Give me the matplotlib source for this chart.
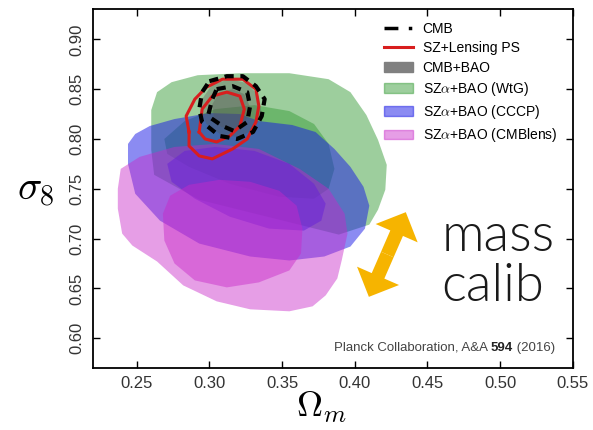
import matplotlib
matplotlib.use("Agg")
import matplotlib.pyplot as plt
from matplotlib.patches import Patch, FancyArrowPatch
from matplotlib.lines import Line2D

plt.rcParams['font.family'] = ['Liberation Sans', 'DejaVu Sans']
plt.rcParams['mathtext.fontset'] = 'cm'

# contour outlines (Omega_m, sigma_8)
wtg95_om = [0.260, 0.260, 0.264, 0.274, 0.292, 0.321, 0.355, 0.382, 0.397, 0.408,
            0.416, 0.422, 0.421, 0.416, 0.410, 0.389, 0.348, 0.293, 0.262]
wtg95_s8 = [0.789, 0.829, 0.847, 0.857, 0.864, 0.866, 0.866, 0.860, 0.847, 0.824,
            0.799, 0.774, 0.749, 0.729, 0.714, 0.704, 0.719, 0.739, 0.764]
wtg68_om = [0.269, 0.283, 0.304, 0.331, 0.355, 0.372, 0.382, 0.386, 0.382, 0.372,
            0.348, 0.314, 0.286, 0.271]
wtg68_s8 = [0.800, 0.818, 0.830, 0.834, 0.828, 0.815, 0.795, 0.770, 0.750, 0.740,
            0.742, 0.755, 0.772, 0.785]

cccp95_om = [0.244, 0.249, 0.259, 0.276, 0.300, 0.321, 0.334, 0.357, 0.373, 0.386,
             0.397, 0.406, 0.410, 0.407, 0.397, 0.379, 0.355, 0.328, 0.293, 0.266,
             0.249, 0.244]
cccp95_s8 = [0.795, 0.805, 0.813, 0.820, 0.826, 0.825, 0.818, 0.814, 0.807, 0.790,
             0.772, 0.752, 0.733, 0.710, 0.692, 0.682, 0.678, 0.682, 0.695, 0.718,
             0.745, 0.775]
cccp68_om = [0.271, 0.283, 0.304, 0.331, 0.355, 0.372, 0.380, 0.377, 0.365, 0.341,
             0.314, 0.290, 0.274]
cccp68_s8 = [0.775, 0.788, 0.792, 0.788, 0.775, 0.755, 0.735, 0.718, 0.708, 0.710,
             0.722, 0.740, 0.757]

lens95_om = [0.239, 0.252, 0.276, 0.304, 0.334, 0.362, 0.382, 0.393, 0.395, 0.391,
             0.388, 0.380, 0.371, 0.355, 0.328, 0.305, 0.282, 0.264, 0.247, 0.240,
             0.237, 0.237]
lens95_s8 = [0.770, 0.782, 0.792, 0.795, 0.790, 0.770, 0.750, 0.725, 0.705, 0.678,
             0.660, 0.643, 0.632, 0.627, 0.629, 0.637, 0.653, 0.677, 0.693, 0.705,
             0.730, 0.750]
lens68_om = [0.268, 0.273, 0.286, 0.307, 0.328, 0.348, 0.360, 0.364, 0.363, 0.355,
             0.334, 0.312, 0.290, 0.276, 0.269]
lens68_s8 = [0.725, 0.743, 0.754, 0.759, 0.757, 0.748, 0.733, 0.710, 0.685, 0.668,
             0.656, 0.651, 0.658, 0.675, 0.698]

cmbbao95_om = [0.295, 0.302, 0.314, 0.326, 0.334, 0.336, 0.331, 0.321, 0.308, 0.298, 0.294]
cmbbao95_s8 = [0.840, 0.855, 0.860, 0.856, 0.843, 0.825, 0.810, 0.802, 0.804, 0.815, 0.828]
cmbbao68_om = [0.302, 0.307, 0.316, 0.324, 0.328, 0.325, 0.317, 0.308, 0.303]
cmbbao68_s8 = [0.835, 0.847, 0.850, 0.845, 0.832, 0.818, 0.810, 0.812, 0.822]

cmb95_om = [0.300, 0.312, 0.323, 0.332, 0.338, 0.336, 0.330, 0.319, 0.307, 0.295, 0.293, 0.295]
cmb95_s8 = [0.858, 0.863, 0.863, 0.853, 0.840, 0.823, 0.807, 0.800, 0.803, 0.817, 0.830, 0.847]
cmb68_om = [0.305, 0.316, 0.326, 0.328, 0.326, 0.317, 0.309, 0.299, 0.302]
cmb68_s8 = [0.850, 0.853, 0.847, 0.833, 0.817, 0.808, 0.813, 0.823, 0.840]

szps95_om = [0.286, 0.284, 0.290, 0.298, 0.309, 0.323, 0.332, 0.334, 0.332, 0.326,
             0.316, 0.302, 0.293, 0.286]
szps95_s8 = [0.807, 0.823, 0.840, 0.852, 0.860, 0.860, 0.850, 0.833, 0.817, 0.800,
             0.790, 0.780, 0.783, 0.793]
szps68_om = [0.293, 0.295, 0.302, 0.312, 0.321, 0.324, 0.321, 0.314, 0.305, 0.297]
szps68_s8 = [0.807, 0.830, 0.843, 0.847, 0.843, 0.830, 0.813, 0.803, 0.797, 0.800]

# arrow ends (Omega_m, sigma_8)
arrow_lo = (0.4097, 0.6415)
arrow_hi = (0.4351, 0.7265)

xticks = [0.25, 0.30, 0.35, 0.40, 0.45, 0.50, 0.55]
yticks = [0.60, 0.65, 0.70, 0.75, 0.80, 0.85, 0.90]

green = '#3c9f3c'
blue = '#1818e6'
magenta = '#c828c8'

fig = plt.figure(figsize=(5.93, 4.30), dpi=100)
ax = fig.add_axes([0.157, 0.144, 0.809, 0.834])

ax.fill(wtg95_om, wtg95_s8, color=green, alpha=0.5, lw=0)
ax.fill(wtg68_om, wtg68_s8, color=green, alpha=0.5, lw=0)
ax.fill(cccp95_om, cccp95_s8, color=blue, alpha=0.5, lw=0)
ax.fill(cccp68_om, cccp68_s8, color=blue, alpha=0.5, lw=0)
ax.fill(lens95_om, lens95_s8, color=magenta, alpha=0.45, lw=0)
ax.fill(lens68_om, lens68_s8, color=magenta, alpha=0.45, lw=0)
ax.fill(cmbbao95_om, cmbbao95_s8, color='#555555', alpha=0.35, lw=0)
ax.fill(cmbbao68_om, cmbbao68_s8, color='#555555', alpha=0.35, lw=0)

for om, s8 in [(szps95_om, szps95_s8), (szps68_om, szps68_s8)]:
    ax.plot(om + om[:1], s8 + s8[:1], color='#d81e1e', lw=2.2)
for om, s8 in [(cmb95_om, cmb95_s8), (cmb68_om, cmb68_s8)]:
    ax.plot(om + om[:1], s8 + s8[:1], color='black', lw=3, ls=(0, (2.2, 1.6)))

# double arrow: two halves from the middle
mid = ((arrow_lo[0] + arrow_hi[0]) / 2, (arrow_lo[1] + arrow_hi[1]) / 2)
for tip in (arrow_lo, arrow_hi):
    ax.add_patch(FancyArrowPatch(mid, tip, arrowstyle='simple,head_length=0.55,head_width=1.1,tail_width=0.33',
                                 mutation_scale=30, shrinkA=0, shrinkB=0,
                                 facecolor='#f6b400', edgecolor='none', zorder=5))

ax.text(0.4597, 0.6875, 'mass', fontsize=38, family='Lato', fontweight=300, color='#1a1a1a')
ax.text(0.4597, 0.6375, 'calib', fontsize=38, family='Lato', fontweight=300, color='#1a1a1a')

t1 = ax.text(0.3858, 0.5905, 'Planck Collaboration, A&A ', fontsize=9.5, color='#444444', va='center')
t2 = ax.annotate('594', xy=(1, 0), xycoords=t1, va='bottom', fontsize=9.5, fontweight='bold', color='#222222')
ax.annotate(' (2016)', xy=(1, 0), xycoords=t2, va='bottom', fontsize=9.5, color='#444444')

ax.set_xlim(0.22, 0.55)
ax.set_ylim(0.57, 0.93)
ax.set_xticks(xticks)
ax.set_yticks(yticks)
ax.set_xticklabels(['%.2f' % v for v in xticks])
ax.set_yticklabels(['%.2f' % v for v in yticks], rotation=90, va='center')
ax.tick_params(direction='in', top=True, right=True, length=5, width=1,
               labelsize=12, labelcolor='#333333', pad=6)
for s in ax.spines.values():
    s.set_linewidth(1.3)

ax.set_xlabel(r'$\Omega_m$', fontsize=26, va='center')
ax.xaxis.set_label_coords(0.477, -0.11)
ax.set_ylabel(r'$\sigma_8$', fontsize=29, rotation=0, va='center', ha='center')
ax.yaxis.set_label_coords(-0.12, 0.497)

handles = [
    Line2D([], [], color='black', lw=2.5, ls=(0, (4, 3, 1, 3))),
    Line2D([], [], color='#d81e1e', lw=2.2),
    Patch(color='#808080'),
    Patch(color=green, alpha=0.5),
    Patch(color=blue, alpha=0.5),
    Patch(color=magenta, alpha=0.45),
]
labels = ['CMB', 'SZ+Lensing PS', 'CMB+BAO', r'SZ$\alpha$+BAO (WtG)',
          r'SZ$\alpha$+BAO (CCCP)', r'SZ$\alpha$+BAO (CMBlens)']
ax.legend(handles, labels, loc='upper left', bbox_to_anchor=(0.58, 1.0), frameon=False,
          fontsize=10, handlelength=2.1, handletextpad=0.7, labelspacing=0.38)

fig.savefig('out.png', dpi=100, facecolor='white')
